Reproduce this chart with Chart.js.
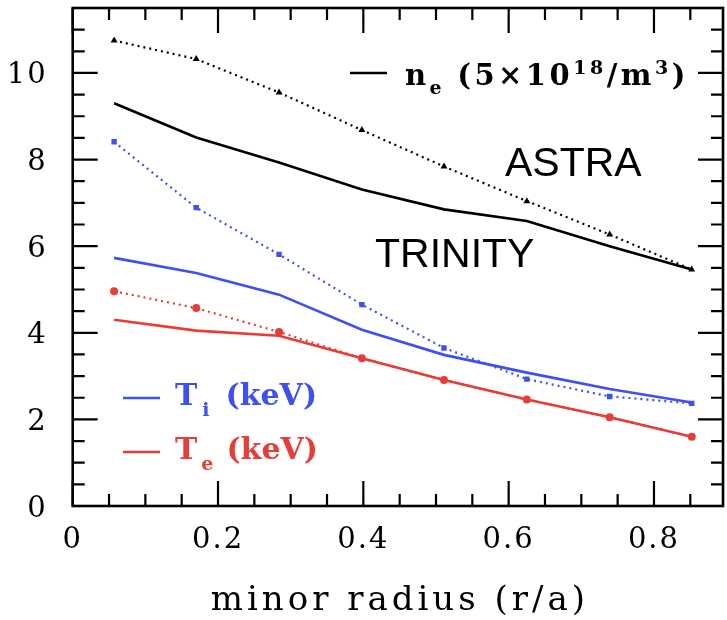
<!DOCTYPE html>
<html>
<head>
<meta charset="utf-8">
<script src="https://cdn.jsdelivr.net/npm/chart.js@4.4.1/dist/chart.umd.min.js"></script>
<style>
    html, body { margin: 0; padding: 0; background: #fff; }
    #wrap { width: 727px; height: 620px; position: relative; }
</style>
</head>
<body>
<div id="wrap"><canvas id="profiles"></canvas></div>
<script>
// radial positions of the transport grid (r/a)
const radius = [0.057, 0.170, 0.284, 0.398, 0.511, 0.625, 0.739, 0.852];

// density in units of 5e18 /m^3
const neAstra   = [10.75, 10.32, 9.55, 8.68, 7.84, 7.04, 6.27, 5.46];
const neTrinity = [9.30, 8.51, 7.93, 7.31, 6.85, 6.58, 6.00, 5.46];

// ion temperature, keV
const tiAstra   = [8.41, 6.89, 5.81, 4.65, 3.65, 2.93, 2.53, 2.37];
const tiTrinity = [5.73, 5.38, 4.88, 4.07, 3.49, 3.08, 2.70, 2.39];

// electron temperature, keV
const teAstra   = [4.96, 4.57, 4.02, 3.41, 2.91, 2.46, 2.05, 1.60];
const teTrinity = [4.30, 4.05, 3.93, 3.41, 2.91, 2.46, 2.05, 1.60];

const xTicks = [0, 0.2, 0.4, 0.6, 0.8];
const yTicks = [0, 2, 4, 6, 8, 10];

const BLUE = '#3f50f2';
const RED = '#e63d36';
const BLACK = '#000';
const SERIF = "'DejaVu Serif', serif";

function pts(ys) {
    return radius.map((r, i) => ({ x: r, y: ys[i] }));
}

// ASTRA runs: dotted with markers; TRINITY runs: solid
function astra(label, ys, color, shape, size) {
    return {
        label: label,
        data: pts(ys),
        borderColor: color,
        backgroundColor: color,
        borderWidth: 2.2,
        borderDash: [2, 4],
        pointStyle: shape,
        pointRadius: size,
        pointBorderWidth: 0,
        tension: 0
    };
}

function trinity(label, ys, color) {
    return {
        label: label,
        data: pts(ys),
        borderColor: color,
        borderWidth: 2.6,
        pointRadius: 0,
        tension: 0
    };
}

// wider tracking for the axis numbers
const tickSpacing = {
    id: 'tickSpacing',
    beforeDraw(chart) { chart.ctx.letterSpacing = '2px'; },
    beforeDatasetsDraw(chart) { chart.ctx.letterSpacing = '0px'; }
};

// frame with inward major/minor ticks on all four sides
const frameTicks = {
    id: 'frameTicks',
    afterDraw(chart) {
        const { ctx, chartArea: a, scales } = chart;
        const xs = scales.x, ys = scales.y;
        ctx.save();
        ctx.strokeStyle = BLACK;
        ctx.lineWidth = 2.2;
        ctx.beginPath();
        for (let v = 0; v <= xs.max + 1e-9; v += 0.05) {
            const major = Math.abs(v / 0.2 - Math.round(v / 0.2)) < 1e-6;
            const len = major ? 25 : 12;
            const px = xs.getPixelForValue(v);
            ctx.moveTo(px, a.bottom); ctx.lineTo(px, a.bottom - len);
            ctx.moveTo(px, a.top); ctx.lineTo(px, a.top + len);
        }
        for (let v = 0; v <= ys.max + 1e-9; v += 0.5) {
            const major = Math.abs(v / 2 - Math.round(v / 2)) < 1e-6;
            const len = major ? 25 : 12;
            const py = ys.getPixelForValue(v);
            ctx.moveTo(a.left, py); ctx.lineTo(a.left + len, py);
            ctx.moveTo(a.right, py); ctx.lineTo(a.right - len, py);
        }
        ctx.stroke();
        ctx.lineWidth = 2.6;
        ctx.strokeRect(a.left, a.top, a.right - a.left, a.bottom - a.top);
        ctx.restore();
    }
};

// legend keys with sub/superscripts, axis title and the code labels
const annotations = {
    id: 'annotations',
    afterDraw(chart) {
        const { ctx, chartArea: a } = chart;
        ctx.save();
        ctx.textBaseline = 'alphabetic';
        ctx.textAlign = 'left';

        function dash(x, y, color) {
            ctx.strokeStyle = color;
            ctx.lineWidth = 2.6;
            ctx.beginPath();
            ctx.moveTo(x, y); ctx.lineTo(x + 37, y);
            ctx.stroke();
        }
        // runs of text laid end to end: [text, size, baseline offset, gap before]
        function runs(x, y, color, spacing, list) {
            ctx.fillStyle = color;
            ctx.letterSpacing = spacing + 'px';
            let cx = x;
            list.forEach(([t, size, dy, gap]) => {
                cx += gap || 0;
                ctx.font = 'bold ' + size + 'px ' + SERIF;
                ctx.fillText(t, cx, y + dy);
                cx += ctx.measureText(t).width;
            });
            ctx.letterSpacing = '0px';
        }

        dash(350, 73, BLACK);
        runs(405, 85, BLACK, 3.5, [
            ['n', 29, 0],
            ['e', 19, 9],
            ['(5×10', 29, 0, 12],
            ['18', 19, -11],
            ['/m', 29, 0],
            ['3', 19, -11],
            [')', 29, 0]
        ]);

        dash(123, 398, BLUE);
        runs(175, 405, BLUE, 0, [
            ['T', 30, 0],
            ['i', 19, 11, 5],
            ['(keV)', 30, 0, 16]
        ]);

        dash(123, 452, RED);
        runs(175, 459, RED, 0, [
            ['T', 30, 0],
            ['e', 19, 11, 4],
            ['(keV)', 30, 0, 13]
        ]);

        // x axis title
        ctx.fillStyle = BLACK;
        ctx.font = '34px ' + SERIF;
        ctx.letterSpacing = '4px';
        const title = 'minor radius (r/a)';
        const w = ctx.measureText(title).width - 4;
        ctx.fillText(title, (a.left + a.right) / 2 - w / 2, 610);
        ctx.letterSpacing = '0px';

        ctx.font = "41px 'Liberation Sans', Arial, sans-serif";
        ctx.fillText('ASTRA', 505, 176);
        ctx.fillText('TRINITY', 375, 267);
        ctx.restore();
    }
};

new Chart(document.getElementById('profiles'), {
    type: 'line',
    data: {
        datasets: [
            astra('n_e ASTRA', neAstra, BLACK, 'triangle', 4),
            trinity('n_e TRINITY', neTrinity, BLACK),
            astra('T_i ASTRA', tiAstra, BLUE, 'rect', 3.8),
            trinity('T_i TRINITY', tiTrinity, BLUE),
            astra('T_e ASTRA', teAstra, RED, 'circle', 4),
            trinity('T_e TRINITY', teTrinity, RED)
        ]
    },
    options: {
        responsive: true,
        maintainAspectRatio: false,
        animation: false,
        layout: { padding: { top: 8, right: 0, left: 0, bottom: 0 } },
        plugins: {
            legend: { display: false },
            tooltip: { enabled: false }
        },
        scales: {
            x: {
                type: 'linear',
                min: 0,
                max: 0.895,
                grid: { display: false },
                border: { display: false },
                afterBuildTicks: (s) => { s.ticks = xTicks.map(v => ({ value: v })); },
                afterFit: (s) => {
                    s.height = 114;
                    s.paddingLeft = 0;
                    s.paddingRight = 0;
                },
                ticks: {
                    color: BLACK,
                    padding: 9,
                    font: { family: SERIF, size: 29 },
                    callback: (v) => String(v)
                }
            },
            y: {
                min: 0,
                max: 11.5,
                grid: { display: false },
                border: { display: false },
                afterBuildTicks: (s) => { s.ticks = yTicks.map(v => ({ value: v })); },
                afterFit: (s) => {
                    s.width = 72.7;
                    s.paddingTop = 0;
                    s.paddingBottom = 0;
                },
                ticks: {
                    color: BLACK,
                    padding: 17,
                    labelOffset: 3,
                    font: { family: SERIF, size: 29 },
                    callback: (v) => String(v)
                }
            }
        }
    },
    plugins: [tickSpacing, frameTicks, annotations]
});
</script>
</body>
</html>
